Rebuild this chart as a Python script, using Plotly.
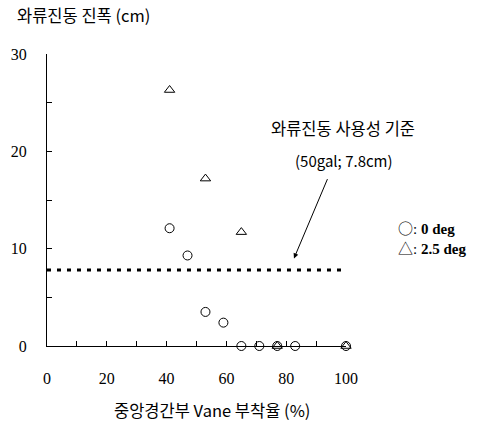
import plotly.graph_objects as go

# Data
circle_x = [41, 47, 53, 59, 65, 71, 77, 83, 100]
circle_y = [12.1, 9.3, 3.5, 2.4, 0, 0, 0, 0, 0]
tri_x = [41, 53, 65, 77, 100]
tri_y = [26.3, 17.2, 11.7, 0, 0]
criterion_y = 7.8
criterion_x = [0, 100]

KR = "Noto Sans CJK KR, Noto Sans, sans-serif"
SERIF = "Liberation Serif, Times New Roman, serif"

fig = go.Figure()
fig.add_trace(go.Scatter(
    x=criterion_x, y=[criterion_y, criterion_y], mode="lines",
    line=dict(color="black", width=3, dash="4px,6px"), showlegend=False,
    hoverinfo="skip"))
fig.add_trace(go.Scatter(
    x=circle_x, y=circle_y, mode="markers", name="0 deg",
    marker=dict(symbol="circle-open", size=9, color="black", line=dict(width=1)),
    cliponaxis=False, showlegend=False))
fig.add_trace(go.Scatter(
    x=tri_x, y=tri_y, mode="markers", name="2.5 deg",
    marker=dict(symbol="triangle-up-open", size=9, color="black", line=dict(width=1)),
    cliponaxis=False, showlegend=False))

W, H = 491, 428
L, R, T, B = 47, 346, 54, 346
pw, ph = R - L, B - T

def px(x):
    return (x - L) / pw

def py(y):
    return (B - y) / ph

fig.update_layout(
    width=W, height=H,
    margin=dict(l=L, r=W - R, t=T, b=H - B, pad=0),
    paper_bgcolor="white", plot_bgcolor="white",
    showlegend=False,
    xaxis=dict(range=[0, 100], dtick=20, tick0=0, ticks="inside", ticklen=5,
               tickcolor="black", showline=True, linecolor="black", linewidth=1,
               showgrid=False, zeroline=False, automargin=False,
               tickfont=dict(family=SERIF, size=16, color="black"),
               ticklabelstandoff=18,
               minor=dict(dtick=10, ticks="inside", ticklen=5, tickcolor="black", showgrid=False)),
    yaxis=dict(range=[0, 30], dtick=10, tick0=0, ticks="inside", ticklen=5,
               tickcolor="black", showline=True, linecolor="black", linewidth=1,
               showgrid=False, zeroline=False, automargin=False,
               tickfont=dict(family=SERIF, size=16, color="black"),
               ticklabelstandoff=16,
               minor=dict(dtick=5, ticks="inside", ticklen=5, tickcolor="black", showgrid=False)),
)

SYM = '<span style="font-family:Noto Sans CJK KR">%s</span>'
anns = [
    dict(text="와류진동 진폭 (cm)", x=px(15), y=py(15), xanchor="left", yanchor="middle",
         font=dict(family=KR, size=16.5, color="black")),
    dict(text="중앙경간부 Vane 부착율 (%)", x=px(212), y=py(410), xanchor="center", yanchor="middle",
         font=dict(family=KR, size=16.5, color="black")),
    dict(text="와류진동 사용성 기준", x=px(343), y=py(128), xanchor="center", yanchor="middle",
         font=dict(family=KR, size=16.5, color="black")),
    dict(text="(50gal; 7.8cm)", x=px(344), y=py(160), xanchor="center", yanchor="middle",
         font=dict(family=KR, size=15, color="black")),
    dict(text=(SYM % "○") + ": <b>0 deg</b>", x=px(396), y=py(227), xanchor="left", yanchor="middle",
         font=dict(family=SERIF, size=15, color="black")),
    dict(text=(SYM % "△") + ": <b>2.5 deg</b>", x=px(396), y=py(247), xanchor="left", yanchor="middle",
         font=dict(family=SERIF, size=15, color="black")),
]
for a in anns:
    fig.add_annotation(xref="paper", yref="paper", showarrow=False, **a)

fig.add_annotation(x=82.6, y=9.0, xref="x", yref="y", ax=94, ay=17.3, axref="x", ayref="y",
                   showarrow=True, arrowhead=2, arrowsize=1, arrowwidth=1, arrowcolor="black", text="")

fig.write_html("out.html", config={"displayModeBar": False},
               post_script="document.body.style.margin='0';document.body.style.overflow='hidden';")
